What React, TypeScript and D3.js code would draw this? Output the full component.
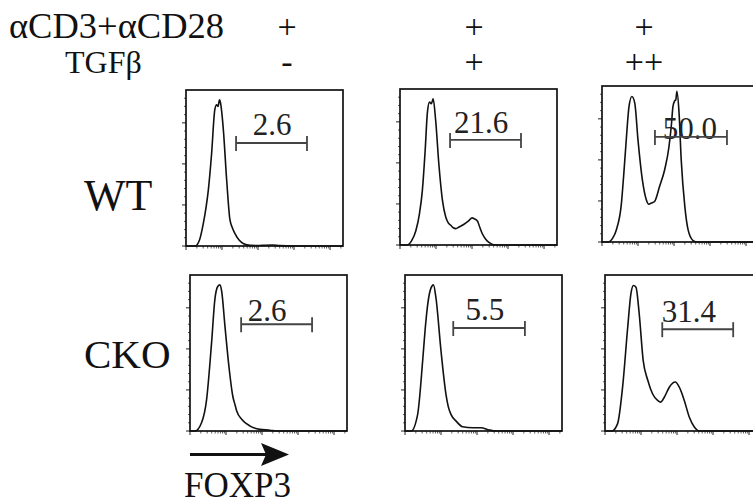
import React from 'react';
import * as d3 from 'd3';

// ---- data ----
const stimLabel = 'αCD3+αCD28';
const tgfLabel = 'TGFβ';
const stimValues = ['+', '+', '+'];
const tgfValues = ['-', '+', '++'];
const rowLabels = ['WT', 'CKO'];
const axisLabel = 'FOXP3';
const gateLabels = ['2.6', '21.6', '50.0', '2.6', '5.5', '31.4'];
// gates in decades (log10 fluorescence)
const gateStart = [1.39, 1.39, 1.47, 1.42, 1.34, 1.59];
const gateEnd = [3.36, 3.36, 3.47, 3.39, 3.33, 3.56];
const gateLevel = [62.7, 64, 64, 65, 62.7, 62];

// histograms: [decade, % of max]
const wtNone: [number, number][] = [
  [0, 0], [0.25, 0], [0.38, 4], [0.48, 13.6], [0.56, 24], [0.62, 34], [0.71, 56], [0.8, 83], [0.85, 86],
  [0.89, 85], [0.93, 89], [0.96, 87], [1.0, 80], [1.04, 70], [1.13, 40], [1.22, 16], [1.29, 11],
  [1.36, 7.5], [1.48, 3.5], [1.6, 1.4], [1.78, 0.4], [2.0, 0.3], [2.2, 0.5], [2.4, 0.6], [2.6, 0.2],
  [3.0, 0], [4.36, 0],
];
const wtLow: [number, number][] = [
  [0, 0], [0.2, 0], [0.32, 2.5], [0.44, 8.7], [0.54, 19], [0.62, 33], [0.7, 58], [0.76, 80.5], [0.82, 87],
  [0.87, 86], [0.92, 89], [0.99, 76], [1.08, 49], [1.18, 27], [1.27, 17], [1.34, 13.5], [1.41, 12],
  [1.48, 10.5], [1.55, 10], [1.64, 11], [1.73, 12], [1.83, 13.5], [1.92, 15], [2.0, 16.5], [2.06, 16],
  [2.15, 14.6], [2.22, 10.5], [2.29, 6.7], [2.38, 3.5], [2.47, 1.6], [2.6, 0.2], [2.8, 0], [4.36, 0],
];
const wtHigh: [number, number][] = [
  [0, 0], [0.17, 0], [0.3, 2.5], [0.4, 7.5], [0.54, 23.7], [0.6, 40], [0.66, 58], [0.75, 82.5], [0.83, 88.6],
  [0.91, 84.6], [1.0, 62], [1.12, 38], [1.23, 25.8], [1.3, 23], [1.37, 23.7], [1.46, 24.7], [1.6, 33.9],
  [1.74, 44], [1.86, 58], [1.93, 72], [1.97, 82.5], [2.02, 86], [2.05, 86.6], [2.08, 91.7], [2.14, 78.5],
  [2.2, 50], [2.3, 21.7], [2.39, 7.5], [2.53, 0.8], [2.62, 0], [4.36, 0],
];
const ckoNone: [number, number][] = [
  [0, 0], [0.14, 0], [0.32, 5], [0.46, 19], [0.6, 54], [0.69, 80], [0.77, 88], [0.83, 89], [0.88, 85],
  [0.97, 64], [1.09, 37.5], [1.19, 21], [1.25, 16], [1.3, 12], [1.44, 7], [1.67, 3], [1.94, 1],
  [2.22, 0.5], [2.4, 0], [4.36, 0],
];
const ckoLow: [number, number][] = [
  [0, 0], [0.17, 0], [0.35, 10], [0.49, 42.6], [0.56, 62], [0.63, 77], [0.72, 87], [0.79, 89], [0.86, 81],
  [1.0, 48.7], [1.14, 22], [1.2, 15], [1.28, 10], [1.42, 6], [1.6, 2.6], [1.88, 2], [2.11, 2],
  [2.34, 0.6], [2.53, 0], [4.36, 0],
];
const ckoHigh: [number, number][] = [
  [0, 0], [0.19, 0], [0.35, 4.5], [0.49, 27], [0.63, 63], [0.72, 83.6], [0.79, 88.6], [0.86, 87.6],
  [0.95, 71.4], [1.06, 43], [1.19, 30.8], [1.32, 22.7], [1.46, 18.7], [1.55, 17.6], [1.65, 20.7],
  [1.79, 26.8], [1.95, 29.8], [2.06, 26.8], [2.2, 18.7], [2.34, 8.5], [2.48, 2.4], [2.62, 0], [4.36, 0],
];
const histograms = [wtNone, wtLow, wtHigh, ckoNone, ckoLow, ckoHigh];

const xDecades = 4.36;
const yMax = 95;
const yMajor = [0, 25, 50, 75];

// ---- layout ----
const W = 157;
const H = 156;
const panelBoxes = [
  { x: 186, y: 90 }, { x: 400, y: 89 }, { x: 602, y: 86 },
  { x: 190, y: 275 }, { x: 405, y: 275 }, { x: 605, y: 275 },
];
// label anchor (decade) and baseline offset above gate (px)
const labelPos = [
  { d: 2.39, dy: 8 }, { d: 2.25, dy: 7 }, { d: 2.44, dy: -2 },
  { d: 2.14, dy: 3 }, { d: 2.22, dy: 8 }, { d: 2.33, dy: 7 },
];

const x = d3.scaleLinear().domain([0, xDecades]).range([0, W]);
const y = d3.scaleLinear().domain([0, yMax]).range([H, 0]);
const line = d3
  .line<[number, number]>()
  .x((d) => x(d[0]))
  .y((d) => y(Math.max(0, d[1])))
  .curve(d3.curveMonotoneX);

const xMajor = d3.range(0, 5);
const xMinor: number[] = [];
xMajor.forEach((dd) => {
  for (let k = 2; k <= 9; k++) {
    const v = dd + Math.log10(k);
    if (v < xDecades) xMinor.push(v);
  }
});
const yMinor = d3.range(5, yMax, 5).filter((v) => !yMajor.includes(v));

const txt = (size: number) => ({ fontFamily: "'Liberation Serif'", fontSize: size });

function Panel({ i }: { i: number }) {
  const b = panelBoxes[i];
  const gy = y(gateLevel[i]);
  return (
    <g transform={`translate(${b.x},${b.y})`}>
      <path d={line(histograms[i]) || ''} fill="none" stroke="#111" strokeWidth={1.6} />
      {xMajor.map((v) => (
        <line key={'xM' + v} x1={x(v)} x2={x(v)} y1={H} y2={H + 4} stroke="#222" strokeWidth={1} />
      ))}
      {xMinor.map((v, k) => (
        <line key={'xm' + k} x1={x(v)} x2={x(v)} y1={H} y2={H + 2.5} stroke="#333" strokeWidth={0.8} />
      ))}
      {yMajor.map((v) => (
        <line key={'yM' + v} x1={-4} x2={0} y1={y(v)} y2={y(v)} stroke="#222" strokeWidth={1} />
      ))}
      {yMinor.map((v) => (
        <line key={'ym' + v} x1={-2} x2={0} y1={y(v)} y2={y(v)} stroke="#333" strokeWidth={0.8} />
      ))}
      <rect x={0} y={0} width={W} height={H} fill="none" stroke="#111" strokeWidth={1.7} />
      <text x={x(labelPos[i].d)} y={gy - labelPos[i].dy} textAnchor="middle" style={txt(31)} fill="#222">
        {gateLabels[i]}
      </text>
      <line x1={x(gateStart[i])} x2={x(gateEnd[i])} y1={gy} y2={gy} stroke="#444" strokeWidth={1.9} />
      <line x1={x(gateStart[i])} x2={x(gateStart[i])} y1={gy - 7} y2={gy + 8} stroke="#444" strokeWidth={1.8} />
      <line x1={x(gateEnd[i])} x2={x(gateEnd[i])} y1={gy - 7} y2={gy + 8} stroke="#444" strokeWidth={1.8} />
    </g>
  );
}

export default function App() {
  const colX = [287, 474, 644];
  return (
    <svg width={753} height={504} style={{ position: 'absolute', left: 0, top: 0, fontFamily: "'Liberation Serif'" }}>
      <rect width={753} height={504} fill="#fff" />
      <text x={9} y={38} style={txt(36.5)} fill="#111">
        {stimLabel}
      </text>
      <text x={65} y={73} style={txt(32)} fill="#111">
        {tgfLabel}
      </text>
      {stimValues.map((s, k) => (
        <text key={'s' + k} x={colX[k]} y={38} textAnchor="middle" style={txt(34)} fill="#111">
          {s}
        </text>
      ))}
      {tgfValues.map((s, k) => (
        <text key={'t' + k} x={colX[k]} y={73} textAnchor="middle" style={txt(34)} fill="#111">
          {s}
        </text>
      ))}
      <text x={84} y={210} style={txt(44)} fill="#111">
        {rowLabels[0]}
      </text>
      <text x={84} y={368} style={txt(41)} fill="#111">
        {rowLabels[1]}
      </text>
      {panelBoxes.map((_, i) => (
        <Panel key={i} i={i} />
      ))}
      <line x1={190} x2={268} y1={454.5} y2={454.5} stroke="#111" strokeWidth={3} />
      <polygon points="261,443 289,454.5 261,466 266,454.5" fill="#111" />
      <text x={184} y={497} style={txt(35)} fill="#111">
        {axisLabel}
      </text>
    </svg>
  );
}
